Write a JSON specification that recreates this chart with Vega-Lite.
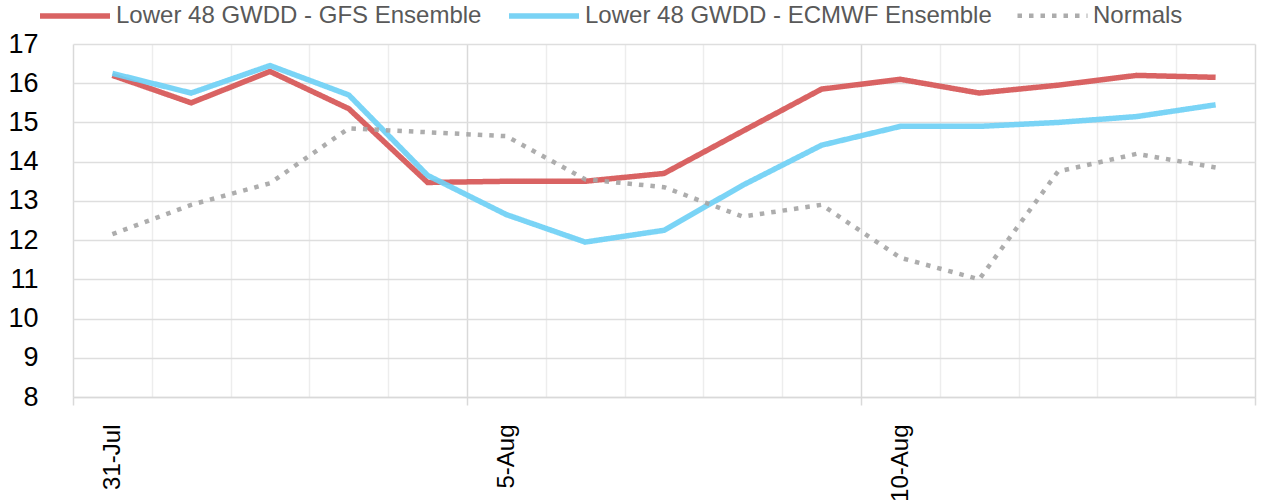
{
  "$schema": "https://vega.github.io/schema/vega-lite/v6.json",
  "width": 1182,
  "height": 353,
  "autosize": {"type": "none"},
  "padding": {"left": 73, "top": 44, "right": 6, "bottom": 103},
  "background": "white",
  "config": {
    "view": {"stroke": null},
    "font": "Liberation Sans",
    "axis": {
      "labelFont": "Liberation Sans",
      "labelFontSize": 24,
      "labelColor": "#000000",
      "title": null
    }
  },
  "data": {
    "values": [
      {"date": "31-Jul", "series": "Lower 48 GWDD - GFS Ensemble", "gwdd": 16.2},
      {"date": "1-Aug", "series": "Lower 48 GWDD - GFS Ensemble", "gwdd": 15.5},
      {"date": "2-Aug", "series": "Lower 48 GWDD - GFS Ensemble", "gwdd": 16.3},
      {"date": "3-Aug", "series": "Lower 48 GWDD - GFS Ensemble", "gwdd": 15.35},
      {"date": "4-Aug", "series": "Lower 48 GWDD - GFS Ensemble", "gwdd": 13.47},
      {"date": "5-Aug", "series": "Lower 48 GWDD - GFS Ensemble", "gwdd": 13.5},
      {"date": "6-Aug", "series": "Lower 48 GWDD - GFS Ensemble", "gwdd": 13.5},
      {"date": "7-Aug", "series": "Lower 48 GWDD - GFS Ensemble", "gwdd": 13.7},
      {"date": "8-Aug", "series": "Lower 48 GWDD - GFS Ensemble", "gwdd": 14.78},
      {"date": "9-Aug", "series": "Lower 48 GWDD - GFS Ensemble", "gwdd": 15.85},
      {"date": "10-Aug", "series": "Lower 48 GWDD - GFS Ensemble", "gwdd": 16.1},
      {"date": "11-Aug", "series": "Lower 48 GWDD - GFS Ensemble", "gwdd": 15.75},
      {"date": "12-Aug", "series": "Lower 48 GWDD - GFS Ensemble", "gwdd": 15.95},
      {"date": "13-Aug", "series": "Lower 48 GWDD - GFS Ensemble", "gwdd": 16.2},
      {"date": "14-Aug", "series": "Lower 48 GWDD - GFS Ensemble", "gwdd": 16.15},
      {"date": "31-Jul", "series": "Lower 48 GWDD - ECMWF Ensemble", "gwdd": 16.25},
      {"date": "1-Aug", "series": "Lower 48 GWDD - ECMWF Ensemble", "gwdd": 15.75},
      {"date": "2-Aug", "series": "Lower 48 GWDD - ECMWF Ensemble", "gwdd": 16.45},
      {"date": "3-Aug", "series": "Lower 48 GWDD - ECMWF Ensemble", "gwdd": 15.7},
      {"date": "4-Aug", "series": "Lower 48 GWDD - ECMWF Ensemble", "gwdd": 13.65},
      {"date": "5-Aug", "series": "Lower 48 GWDD - ECMWF Ensemble", "gwdd": 12.65},
      {"date": "6-Aug", "series": "Lower 48 GWDD - ECMWF Ensemble", "gwdd": 11.95},
      {"date": "7-Aug", "series": "Lower 48 GWDD - ECMWF Ensemble", "gwdd": 12.25},
      {"date": "8-Aug", "series": "Lower 48 GWDD - ECMWF Ensemble", "gwdd": 13.4},
      {"date": "9-Aug", "series": "Lower 48 GWDD - ECMWF Ensemble", "gwdd": 14.42},
      {"date": "10-Aug", "series": "Lower 48 GWDD - ECMWF Ensemble", "gwdd": 14.9},
      {"date": "11-Aug", "series": "Lower 48 GWDD - ECMWF Ensemble", "gwdd": 14.9},
      {"date": "12-Aug", "series": "Lower 48 GWDD - ECMWF Ensemble", "gwdd": 15.0},
      {"date": "13-Aug", "series": "Lower 48 GWDD - ECMWF Ensemble", "gwdd": 15.15},
      {"date": "14-Aug", "series": "Lower 48 GWDD - ECMWF Ensemble", "gwdd": 15.45},
      {"date": "31-Jul", "series": "Normals", "gwdd": 12.15},
      {"date": "1-Aug", "series": "Normals", "gwdd": 12.9},
      {"date": "2-Aug", "series": "Normals", "gwdd": 13.45},
      {"date": "3-Aug", "series": "Normals", "gwdd": 14.85},
      {"date": "4-Aug", "series": "Normals", "gwdd": 14.75},
      {"date": "5-Aug", "series": "Normals", "gwdd": 14.65},
      {"date": "6-Aug", "series": "Normals", "gwdd": 13.55},
      {"date": "7-Aug", "series": "Normals", "gwdd": 13.35},
      {"date": "8-Aug", "series": "Normals", "gwdd": 12.6},
      {"date": "9-Aug", "series": "Normals", "gwdd": 12.9},
      {"date": "10-Aug", "series": "Normals", "gwdd": 11.55},
      {"date": "11-Aug", "series": "Normals", "gwdd": 11.0},
      {"date": "12-Aug", "series": "Normals", "gwdd": 13.75},
      {"date": "13-Aug", "series": "Normals", "gwdd": 14.2},
      {"date": "14-Aug", "series": "Normals", "gwdd": 13.85}
    ]
  },
  "mark": {"type": "line", "strokeJoin": "miter", "opacity": 0.92},
  "encoding": {
    "x": {
      "field": "date",
      "type": "ordinal",
      "sort": null,
      "scale": {"type": "band", "paddingInner": 0, "paddingOuter": 0},
      "axis": {
        "tickBand": "extent",
        "labelAngle": -90,
        "labelPadding": 19,
        "labelOverlap": false,
        "labelBound": false,
        "labelExpr": "indexof(['31-Jul','5-Aug','10-Aug'], datum.value) >= 0 ? datum.label : ''",
        "tickSize": 8,
        "tickColor": "#d9d9d9",
        "tickWidth": 1.5,
        "tickOpacity": {"condition": {"test": "datum.extra || indexof(['4-Aug','9-Aug','14-Aug'], datum.value) >= 0", "value": 1}, "value": 0},
        "domainColor": "#d9d9d9",
        "domainWidth": 1.5,
        "grid": true,
        "gridWidth": 1.5,
        "gridColor": {"condition": {"test": "datum.extra || indexof(['4-Aug','9-Aug','14-Aug'], datum.value) >= 0", "value": "#d9d9d9"}, "value": "#ededed"}
      }
    },
    "y": {
      "field": "gwdd",
      "type": "quantitative",
      "scale": {"domain": [8, 17], "nice": false, "zero": false},
      "axis": {
        "values": [8, 9, 10, 11, 12, 13, 14, 15, 16, 17],
        "domain": false,
        "ticks": false,
        "tickSize": 0,
        "labelFontSize": 27,
        "labelPadding": 35,
        "gridColor": "#dedede",
        "gridWidth": 1.5
      }
    },
    "color": {
      "field": "series",
      "type": "nominal",
      "sort": null,
      "scale": {
        "domain": ["Lower 48 GWDD - GFS Ensemble", "Lower 48 GWDD - ECMWF Ensemble", "Normals"],
        "range": ["#d65656", "#6fd0f5", "#a6a6a6"]
      },
      "legend": {
        "title": null,
        "orient": "none",
        "legendX": -36,
        "legendY": -66,
        "direction": "horizontal",
        "symbolType": "stroke",
        "symbolSize": 4900,
        "symbolStrokeWidth": 5.5,
        "labelFont": "Liberation Sans",
        "labelFontSize": 24,
        "labelColor": "#595959",
        "labelOffset": 3,
        "columnPadding": 16,
        "labelLimit": 500
      }
    },
    "strokeWidth": {
      "field": "series",
      "type": "nominal",
      "sort": null,
      "scale": {
        "type": "ordinal",
        "domain": ["Lower 48 GWDD - GFS Ensemble", "Lower 48 GWDD - ECMWF Ensemble", "Normals"],
        "range": [5.5, 5.5, 4.5]
      },
      "legend": null
    },
    "strokeDash": {
      "field": "series",
      "type": "nominal",
      "sort": null,
      "scale": {
        "domain": ["Lower 48 GWDD - GFS Ensemble", "Lower 48 GWDD - ECMWF Ensemble", "Normals"],
        "range": [[1, 0], [1, 0], [4.5, 7]]
      },
      "legend": null
    }
  }
}
